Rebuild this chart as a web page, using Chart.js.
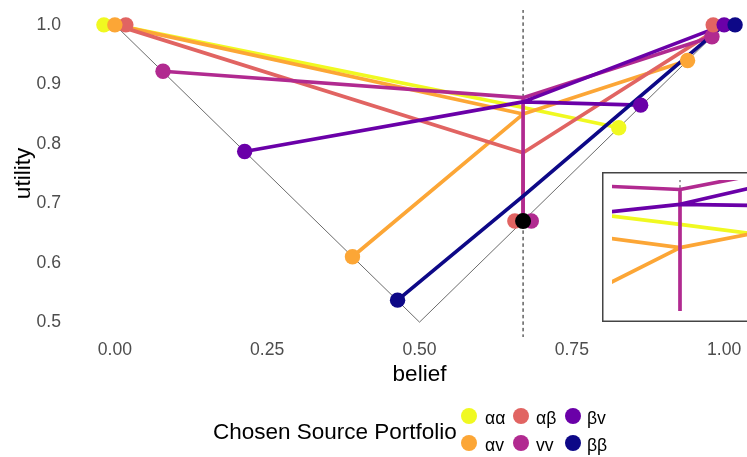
<!DOCTYPE html>
<html>
<head>
<meta charset="utf-8">
<script src="https://cdn.jsdelivr.net/npm/chart.js@4.4.1/dist/chart.umd.min.js"></script>
<style>
  html, body { margin: 0; padding: 0; background: #fff; overflow: hidden; }
  #wrap { position: relative; width: 747px; height: 457px; overflow: hidden;
          font-family: "Liberation Sans", Arial, sans-serif; }
  #main { position: absolute; left: 0; top: 0; }
  #inset { position: absolute; left: 602px; top: 172px; }
  .lg-title { position: absolute; left: 213px; top: 421px; font-size: 22.5px; line-height: 1; color: #000; white-space: nowrap; }
  .lg-key { position: absolute; width: 16px; height: 16px; border-radius: 50%; }
  .lg-label { position: absolute; font-size: 17.6px; line-height: 1; color: #000; white-space: nowrap; }
</style>
</head>
<body>
<div id="wrap">
  <canvas id="main" width="790" height="457"></canvas>
  <canvas id="inset" width="160" height="150"></canvas>
  <div class="lg-title">Chosen Source Portfolio</div>
  <div id="legend"></div>
</div>
<script>
// Source portfolios and their colours (plasma palette)
const portfolios = ['αα', 'αv', 'αβ', 'vv', 'βv', 'ββ'];
const colors = ['#F0F921', '#FCA636', '#E16462', '#B12A90', '#6A00A8', '#0D0887'];

// Prior belief and the utility at the prior on the boundary
const prior = 0.67;
const priorUtility = 0.67;

// Posterior beliefs and utilities chosen under each portfolio
const aaBelief = [0, 0.827];
const aaUtility = [1.0, 0.827];
const avBelief = [0, 0.39, 0.94];
const avUtility = [1.0, 0.61, 0.94];
const abBelief = [0, 0.67, 1];
const abUtility = [1.0, 0.67, 1.0];
const vvBelief = [0.079, 0.67, 0.98];
const vvUtility = [0.922, 0.67, 0.98];
const bvBelief = [0.213, 0.863, 1];
const bvUtility = [0.787, 0.865, 1.0];
const bbBelief = [0.464, 1];
const bbUtility = [0.537, 1.0];

// Expected utility at the prior for each portfolio (same order as portfolios)
const valueAtPrior = [0.861, 0.850, 0.785, 0.8775, 0.8705, 0.712];

// Boundary of the utility function
const boundaryBelief = [0, 0.5, 1];
const boundaryUtility = [1, 0.5, 1];

// Axis ticks
const xTicks = [0, 0.25, 0.5, 0.75, 1];
const yTicks = [0.5, 0.6, 0.7, 0.8, 0.9, 1.0];

const beliefs = [aaBelief, avBelief, abBelief, vvBelief, bvBelief, bbBelief];
const utilities = [aaUtility, avUtility, abUtility, vvUtility, bvUtility, bbUtility];

const FONT = '"Liberation Sans", Arial, sans-serif';
const LINE_W = 3.7;
const DODGE = 0.054;

// Star of segments: every posterior joined to the value at the prior
function starData(i) {
  const c = { x: prior, y: valueAtPrior[i] };
  const out = [];
  beliefs[i].forEach((b, j) => {
    if (j > 0) out.push(c);
    out.push({ x: b, y: utilities[i][j] });
    out.push(c);
  });
  return out;
}

// Dodge markers that share the same position
const markers = [];
beliefs.forEach((bs, i) => bs.forEach((b, j) => markers.push({ s: i, b: b, u: utilities[i][j] })));
const groups = {};
markers.forEach(m => {
  const key = m.b.toFixed(4) + '|' + m.u.toFixed(4);
  (groups[key] = groups[key] || []).push(m);
});
Object.values(groups).forEach(g => {
  const n = g.length;
  g.forEach((m, k) => { m.x = m.b + (n > 1 ? (k - (n - 1) / 2) * DODGE / n : 0); });
});

function lineSets(withPoints) {
  const sets = [];
  sets.push({
    data: boundaryBelief.map((b, k) => ({ x: b, y: boundaryUtility[k] })),
    showLine: true, borderColor: '#5a5a5a', borderWidth: 0.9, pointRadius: 0
  });
  sets.push({
    data: [{ x: prior, y: -10 }, { x: prior, y: 10 }],
    showLine: true, borderColor: '#111', borderWidth: 1, borderDash: [3.5, 3], pointRadius: 0
  });
  portfolios.forEach((p, i) => {
    sets.push({
      label: p, data: starData(i), showLine: true, borderColor: colors[i],
      borderWidth: LINE_W, pointRadius: 0, borderCapStyle: 'butt', borderJoinStyle: 'round'
    });
  });
  if (withPoints) {
    [0, 3, 2, 1, 4, 5].forEach(i => {
      sets.push({
        data: markers.filter(m => m.s === i).map(m => ({ x: m.x, y: m.u })),
        showLine: false, pointRadius: 7.7, pointBackgroundColor: colors[i],
        pointBorderWidth: 0, pointHoverRadius: 7.7
      });
    });
    sets.push({
      data: [{ x: prior, y: priorUtility }], showLine: false, pointRadius: 8,
      pointBackgroundColor: '#000', pointBorderWidth: 0
    });
  }
  // first entry is drawn at the bottom
  sets.forEach((s, k) => { s.order = sets.length - k; });
  return sets;
}

Chart.defaults.font.family = FONT;

new Chart(document.getElementById('main'), {
  type: 'scatter',
  data: { datasets: lineSets(true) },
  options: {
    responsive: false, animation: false, devicePixelRatio: 1,
    layout: { padding: { left: 0, top: 10, right: 22, bottom: 67 } },
    plugins: { legend: { display: false }, tooltip: { enabled: false } },
    events: [],
    scales: {
      x: {
        type: 'linear', min: -0.072, max: 1.072,
        grid: { display: false, drawTicks: false }, border: { display: false },
        afterBuildTicks: s => { s.ticks = xTicks.map(v => ({ value: v })); },
        afterFit: s => { s.height = 53; s.paddingLeft = 0; s.paddingRight = 0; },
        ticks: { color: '#4D4D4D', font: { size: 17.6 }, padding: 3, maxRotation: 0,
                 callback: v => Number(v).toFixed(2) },
        title: { display: true, text: 'belief', color: '#000', font: { size: 22.5 },
                 padding: { top: 0, bottom: 2 } }
      },
      y: {
        type: 'linear', min: 0.475, max: 1.025,
        grid: { display: false, drawTicks: false }, border: { display: false },
        afterBuildTicks: s => { s.ticks = yTicks.map(v => ({ value: v })); },
        afterFit: s => { s.width = 71; s.paddingTop = 0; s.paddingBottom = 0; },
        ticks: { color: '#4D4D4D', font: { size: 17.6 }, padding: 10,
                 callback: v => Number(v).toFixed(1) },
        title: { display: true, text: 'utility', color: '#000', font: { size: 22.5 },
                 padding: { top: 10, bottom: 0 } }
      }
    }
  }
});

// Magnified view around the prior
const insetFrame = {
  id: 'insetFrame',
  afterDraw(chart) {
    const ctx = chart.ctx;
    ctx.save();
    ctx.strokeStyle = '#444';
    ctx.lineWidth = 1.5;
    ctx.strokeRect(0.75, 0.75, chart.width - 1.5, chart.height - 1.5);
    ctx.restore();
  }
};

const insetSets = lineSets(false);
insetSets[1].borderWidth = 0.8;
new Chart(document.getElementById('inset'), {
  type: 'scatter',
  data: { datasets: insetSets },
  plugins: [insetFrame],
  options: {
    responsive: false, animation: false, devicePixelRatio: 1,
    layout: { padding: { left: 10, top: 8, right: 14, bottom: 11 } },
    plugins: { legend: { display: false }, tooltip: { enabled: false } },
    events: [],
    scales: {
      x: { type: 'linear', min: 0.6511, max: 0.6889, display: false },
      y: { type: 'linear', min: 0.820, max: 0.882, display: false }
    }
  }
});

// Legend: two rows, three columns, filled column by column
const legend = document.getElementById('legend');
const colX = [469, 521, 573];
const labelX = [485, 536, 587];
const rowY = [416, 443];
const labelTop = [410, 437];
portfolios.forEach((p, i) => {
  const col = Math.floor(i / 2), row = i % 2;
  const key = document.createElement('div');
  key.className = 'lg-key';
  key.style.left = (colX[col] - 8) + 'px';
  key.style.top = (rowY[row] - 8) + 'px';
  key.style.background = colors[i];
  legend.appendChild(key);
  const lab = document.createElement('div');
  lab.className = 'lg-label';
  lab.style.left = labelX[col] + 'px';
  lab.style.top = labelTop[row] + 'px';
  lab.textContent = p;
  legend.appendChild(lab);
});
</script>
</body>
</html>
